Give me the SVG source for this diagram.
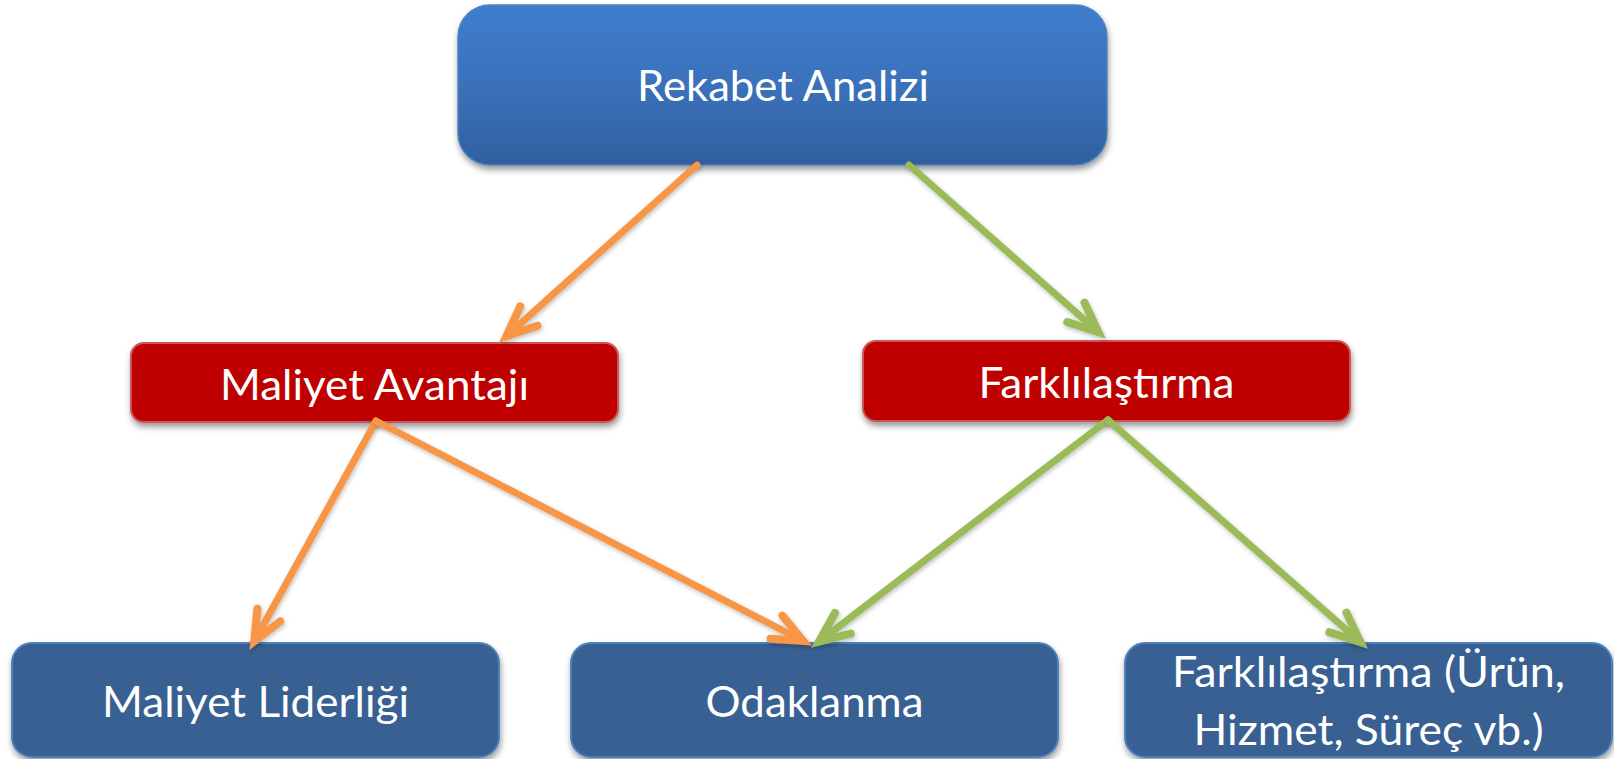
<svg xmlns="http://www.w3.org/2000/svg" width="1614" height="759" viewBox="0 0 1614 759">
  <style>
    .label { font-family: Lato, "Open Sans", "DejaVu Sans", sans-serif; font-size: 43px; fill: #ffffff; text-anchor: middle; }
    .top { fill: url(#topFill); stroke: #4f81bd; stroke-width: 1.5; filter: url(#boxShadow); }
    .mid { fill: #bf0000; stroke: #c9565a; stroke-width: 2; filter: url(#boxShadow); }
    .leaf { fill: #376092; stroke: #4f81bd; stroke-width: 2; filter: url(#boxShadow); }
    .link { fill: none; stroke-width: 7; stroke-linecap: round; filter: url(#lineShadow); }
    .orange { stroke: #f79646; marker-end: url(#arrowOrange); }
    .green { stroke: #9bbb59; marker-end: url(#arrowGreen); }
  </style>
  <defs>
    <linearGradient id="topFill" x1="0" y1="0" x2="0" y2="1">
      <stop offset="0" stop-color="#3e7ecc"/>
      <stop offset="0.5" stop-color="#3a71bb"/>
      <stop offset="1" stop-color="#31609d"/>
    </linearGradient>
    <filter id="boxShadow" x="-10%" y="-20%" width="120%" height="150%">
      <feDropShadow dx="1" dy="4" stdDeviation="3" flood-color="#000" flood-opacity="0.4"/>
    </filter>
    <filter id="lineShadow" x="-20%" y="-20%" width="140%" height="140%">
      <feDropShadow dx="1" dy="2" stdDeviation="2" flood-color="#000" flood-opacity="0.25"/>
    </filter>
    <marker id="arrowOrange" markerUnits="userSpaceOnUse" viewBox="-45 -25 60 50" markerWidth="60" markerHeight="50" refX="0" refY="0" orient="auto" overflow="visible">
      <path d="M -30 -13 L 0 0 L -30 13" fill="none" stroke="#f79646" stroke-width="8" stroke-linecap="round" stroke-linejoin="miter" stroke-miterlimit="10"/>
    </marker>
    <marker id="arrowGreen" markerUnits="userSpaceOnUse" viewBox="-45 -25 60 50" markerWidth="60" markerHeight="50" refX="0" refY="0" orient="auto" overflow="visible">
      <path d="M -30 -13 L 0 0 L -30 13" fill="none" stroke="#9bbb59" stroke-width="8" stroke-linecap="round" stroke-linejoin="miter" stroke-miterlimit="10"/>
    </marker>
  </defs>

  <rect width="1614" height="759" fill="#ffffff"/>

  <g id="node-rekabet">
    <rect class="top" x="458" y="5" width="649" height="160" rx="32"/>
    <text class="label" x="783" y="101" textLength="292" lengthAdjust="spacingAndGlyphs">Rekabet Analizi</text>
  </g>

  <g id="node-maliyet-avantaji">
    <rect class="mid" x="131" y="343" width="487" height="79" rx="13"/>
    <text class="label" x="374.5" y="400" textLength="309" lengthAdjust="spacingAndGlyphs">Maliyet Avantajı</text>
  </g>

  <g id="node-farklilastirma">
    <rect class="mid" x="863" y="341" width="487" height="80" rx="13"/>
    <text class="label" x="1106.5" y="398" textLength="256" lengthAdjust="spacingAndGlyphs">Farklılaştırma</text>
  </g>

  <g id="node-maliyet-liderligi">
    <rect class="leaf" x="12" y="643" width="487" height="114" rx="20"/>
    <text class="label" x="255.5" y="717" textLength="307" lengthAdjust="spacingAndGlyphs">Maliyet Liderliği</text>
  </g>

  <g id="node-odaklanma">
    <rect class="leaf" x="571" y="643" width="487" height="114" rx="20"/>
    <text class="label" x="814.5" y="717" textLength="218" lengthAdjust="spacingAndGlyphs">Odaklanma</text>
  </g>

  <g id="node-farklilastirma-detay">
    <rect class="leaf" x="1125" y="643" width="487" height="114" rx="20"/>
    <text class="label" x="1368.5" y="687" textLength="393" lengthAdjust="spacingAndGlyphs">Farklılaştırma (Ürün,</text>
    <text class="label" x="1368.5" y="745" textLength="350" lengthAdjust="spacingAndGlyphs">Hizmet, Süreç vb.)</text>
  </g>

  <g id="connectors">
    <line class="link orange" x1="697" y1="165" x2="506.5" y2="336.1"/>
    <line class="link green" x1="909" y1="165" x2="1098.4" y2="332.2"/>
    <line class="link orange" x1="376" y1="421" x2="254.3" y2="641.3"/>
    <line class="link orange" x1="376" y1="421" x2="803.2" y2="641"/>
    <line class="link green" x1="1108" y1="420" x2="819" y2="641.6"/>
    <line class="link green" x1="1108" y1="420" x2="1360.4" y2="642.2"/>
  </g>
</svg>
